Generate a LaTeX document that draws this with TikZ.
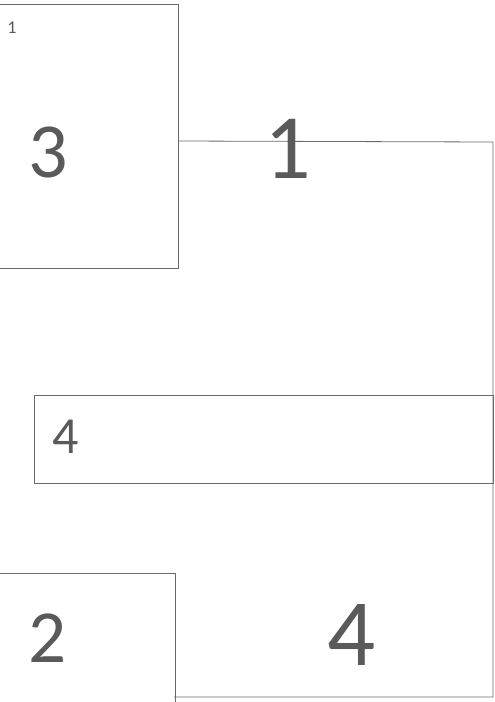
\documentclass[tikz,border=0pt]{standalone}
\usepackage{fontspec}
\setmainfont{Carlito}
\definecolor{inkgray}{HTML}{5A5A5A}
\definecolor{linegray}{HTML}{6A6A6A}
\tikzset{
  box/.style={draw=linegray, line width=0.8pt, rectangle, inner sep=0pt},
  wire/.style={draw=linegray, line width=0.8pt},
  lbl/.style={text=inkgray, inner sep=0pt, anchor=center},
}
\begin{document}
\begin{tikzpicture}[x=1pt,y=-1pt]
\useasboundingbox (0,0) rectangle (495,702);
% boxes
\node[box, minimum width=190pt, minimum height=264pt] (boxA) at (83,136) {};
\node[box, minimum width=459pt, minimum height=88pt] (midbox) at (263.5,439) {};
\node[box, minimum width=187pt, minimum height=150pt] (boxB) at (81.5,648) {};
% outline connector
\coordinate (tr) at (493,142);
\coordinate (br) at (493,697);
\coordinate (bl) at (174,697);
\draw[wire] (boxA.east |- 0,141) -- (tr) -- (br) -- (bl);
% labels
\node[lbl, font=\fontsize{18}{18}\selectfont] (s1) at (12,27.5) {1};
\node[lbl, font=\fontsize{78}{78}\selectfont] (l3) at (48,152.5) {3};
\node[lbl, font=\fontsize{92}{92}\selectfont] (l1) at (288,149) {1};
\node[lbl, font=\fontsize{52}{52}\selectfont] (m4) at (66,437) {4};
\node[lbl, font=\fontsize{75}{75}\selectfont] (l2) at (48,638) {2};
\node[lbl, font=\fontsize{95}{95}\selectfont] (l4) at (352,635) {4};
\end{tikzpicture}
\end{document}
